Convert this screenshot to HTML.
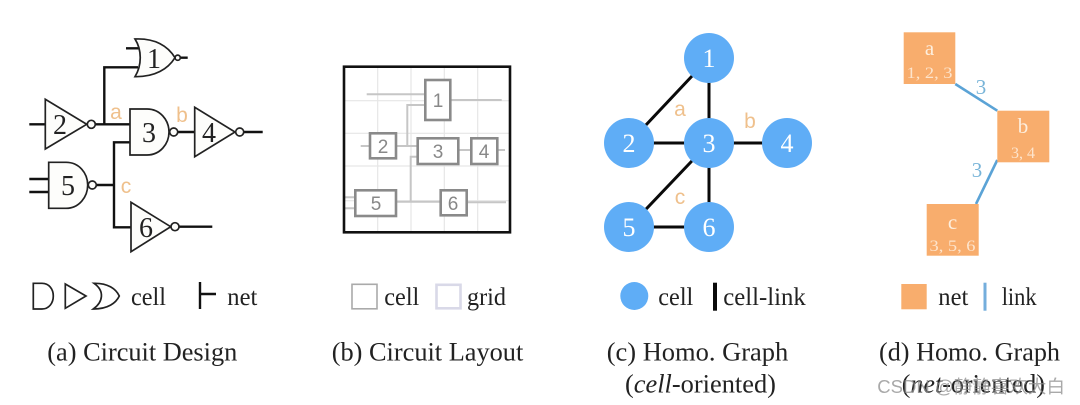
<!DOCTYPE html>
<html><head><meta charset="utf-8"><style>
html,body{margin:0;padding:0;background:#fff;width:1080px;height:405px;overflow:hidden}
svg{display:block;filter:blur(.35px)}
.s{font-family:"Liberation Serif","Noto Serif CJK SC",serif;fill:#222}
.h{font-family:"Liberation Sans",sans-serif}
.g{fill:#fdfdfb;stroke:#222;stroke-width:1.7}
.w{fill:none;stroke:#111;stroke-width:2.4}
.d{font-size:28px;text-anchor:middle}
.lab{font-size:21px;fill:#efc08c;text-anchor:middle}
.lay{fill:none;stroke:#c6c6c6;stroke-width:2}
.box{fill:#fff;stroke:#8a8a8a;stroke-width:2.6}
.bt{font-size:19px;fill:#888;text-anchor:middle}
.gr{stroke:#e6e6e6;stroke-width:1.2}
.cn{font-size:26px;fill:#fff;text-anchor:middle}
.n{fill:#f8ad6d}
.nt{font-size:21px;fill:#fdeedd;text-anchor:middle}
.nb{font-size:16px;fill:#fde4cc;text-anchor:middle}
.leg{font-size:25px}
.cap{font-size:26.5px}
</style></head><body>
<svg width="1080" height="405" viewBox="0 0 1080 405" xmlns="http://www.w3.org/2000/svg">
<!-- panel a wires -->
<path class="w" d="M126 48.3H139M138 67.3H104.3V124.3M29.3 124.3H45M95 124.3H130M130 142.3H114V227.3H131M96 185H114M29.3 179H49M29.3 192H49M177 132H195M243.5 132H262.7M179 226.7H212.3M180.5 57.7H187.7"/>
<!-- gates -->
<path class="g" d="M135 39C155 38 168 46 175 57.7C168 69 155 77 135 76.7C142 65 142 50 135 39Z"/>
<circle class="g" cx="177.7" cy="57.7" r="2.6"/>
<path class="g" d="M45.3 99.3V149L86.7 124.3Z"/><circle class="g" cx="91.3" cy="124.3" r="4"/>
<path class="g" d="M130 109H147C160 109 169 120 169 132C169 144 160 155 147 155H130Z"/><circle class="g" cx="173.7" cy="132" r="4"/>
<path class="g" d="M194.7 107.3V156.7L235 132Z"/><circle class="g" cx="239.7" cy="132" r="4"/>
<path class="g" d="M48.7 162.3H66C79 162.3 87.7 173 87.7 185C87.7 197 79 208.3 66 208.3H48.7Z"/><circle class="g" cx="92.3" cy="185" r="4"/>
<path class="g" d="M131 202.3V251.7L170.7 226.7Z"/><circle class="g" cx="175" cy="226.7" r="4"/>
<text class="s d" x="154" y="68">1</text>
<text class="s d" x="60" y="134">2</text>
<text class="s d" x="149" y="142">3</text>
<text class="s d" x="209" y="142">4</text>
<text class="s d" x="68" y="195">5</text>
<text class="s d" x="146" y="237">6</text>
<text class="h lab" x="116" y="119">a</text>
<text class="h lab" x="182" y="122">b</text>
<text class="h lab" x="126" y="193">c</text>
<!-- panel b -->
<path class="gr" d="M377.7 67V232M411 67V232M444.3 67V232M477.7 67V232M344 100.7H510M344 133.3H510M344 166H510M344 200.7H510"/>
<path class="lay" d="M366.7 94.3H425.3M450.3 100H501.7M425.3 105H407.3V146H417.7M396 146H417.7M360.7 146H370M458.3 150H471.3M497.3 150H505M417.7 156.7H410.7V201.7M396 201.7H440.7M466.7 202.3H506M345 197.3H355.3M345 208.3H355.3"/>
<rect x="344" y="66.7" width="166" height="165.6" fill="none" stroke="#111" stroke-width="2.6"/>
<rect class="box" x="425.3" y="80" width="25" height="40"/>
<rect class="box" x="370" y="133.3" width="26" height="25"/>
<rect class="box" x="417.7" y="138.3" width="40.6" height="25.7"/>
<rect class="box" x="471.3" y="138.3" width="26" height="25.7"/>
<rect class="box" x="355.3" y="190.3" width="40.7" height="25.7"/>
<rect class="box" x="440.7" y="190.3" width="26" height="25"/>
<text class="h bt" x="438" y="107">1</text>
<text class="h bt" x="383" y="153">2</text>
<text class="h bt" x="438" y="158">3</text>
<text class="h bt" x="484" y="158">4</text>
<text class="h bt" x="376" y="210">5</text>
<text class="h bt" x="453" y="210">6</text>
<!-- panel c -->
<path d="M709 58V227M629 143L709 58M629 143H787M629 227H709M629 227L709 143" fill="none" stroke="#0a0a0a" stroke-width="3"/>
<g fill="#5fadf6"><circle cx="709" cy="58" r="25"/><circle cx="629" cy="143" r="25"/><circle cx="709" cy="143" r="25"/><circle cx="787" cy="143" r="25"/><circle cx="629" cy="227" r="25"/><circle cx="709" cy="227" r="25"/></g>
<text class="s cn" x="709" y="67">1</text>
<text class="s cn" x="629" y="152">2</text>
<text class="s cn" x="709" y="152">3</text>
<text class="s cn" x="787" y="152">4</text>
<text class="s cn" x="629" y="236">5</text>
<text class="s cn" x="709" y="236">6</text>
<text class="h lab" x="680" y="116">a</text>
<text class="h lab" x="750" y="128">b</text>
<text class="h lab" x="680" y="204">c</text>
<!-- panel d -->
<path d="M955.3 84L997.3 110.7M997.3 160L976 204" stroke="#5ba3d6" stroke-width="2.6" fill="none"/>
<rect class="n" x="903.7" y="32.3" width="51.6" height="51.7"/>
<rect class="n" x="997.3" y="110.7" width="52" height="51.6"/>
<rect class="n" x="926.7" y="204" width="52" height="51.7"/>
<text class="s nt" x="929.5" y="55">a</text>
<text class="s nb" x="929.5" y="78" textLength="46" lengthAdjust="spacingAndGlyphs">1, 2, 3</text>
<text class="s nt" x="1023" y="133">b</text>
<text class="s nb" x="1023" y="158">3, 4</text>
<text class="s nt" x="952.5" y="229">c</text>
<text class="s nb" x="952.5" y="251" textLength="46" lengthAdjust="spacingAndGlyphs">3, 5, 6</text>
<text class="s" x="981" y="94" font-size="21" text-anchor="middle" style="fill:#78b4d8">3</text>
<text class="s" x="977" y="177" font-size="21" text-anchor="middle" style="fill:#78b4d8">3</text>
<!-- legends -->
<g fill="none" stroke="#222" stroke-width="1.7">
<path d="M33.3 283.3H42C49 283.3 53.3 289 53.3 296C53.3 303 49 309 42 309H33.3Z"/>
<path d="M65.3 284V308.3L86 296Z"/>
<path d="M94 283.3C108 283 116 289 119.3 296C116 303 108 309 93.3 309C103 302 105 291 94 283.3Z"/>
</g>
<path d="M200 282V309M200 294H216" fill="none" stroke="#111" stroke-width="2.4"/>
<text class="s leg" x="131" y="305" textLength="35" lengthAdjust="spacingAndGlyphs">cell</text>
<text class="s leg" x="227.3" y="305" textLength="30" lengthAdjust="spacingAndGlyphs">net</text>
<rect x="352" y="284.3" width="25" height="24.5" fill="#fff" stroke="#aaa" stroke-width="1.6"/>
<text class="s leg" x="384.3" y="305" textLength="35" lengthAdjust="spacingAndGlyphs">cell</text>
<rect x="436.5" y="284.8" width="24" height="23.5" fill="#fff" stroke="#d9d9e8" stroke-width="2.6"/>
<text class="s leg" x="467" y="305" textLength="39" lengthAdjust="spacingAndGlyphs">grid</text>
<circle cx="634.3" cy="296" r="14" fill="#5fadf6"/>
<text class="s leg" x="658.3" y="305" textLength="35" lengthAdjust="spacingAndGlyphs">cell</text>
<rect x="713" y="282.7" width="4" height="28" fill="#0a0a0a"/>
<text class="s leg" x="723.3" y="305" textLength="82.5" lengthAdjust="spacingAndGlyphs">cell-link</text>
<rect class="n" x="901.3" y="284" width="25.4" height="25.3"/>
<text class="s leg" x="938.3" y="305" textLength="30" lengthAdjust="spacingAndGlyphs">net</text>
<rect x="983.5" y="282.7" width="3" height="28" fill="#74aedc"/>
<text class="s leg" x="1001.7" y="305" textLength="35" lengthAdjust="spacingAndGlyphs">link</text>
<!-- captions -->
<text class="s cap" x="47.3" y="360.7" textLength="190" lengthAdjust="spacingAndGlyphs">(a) Circuit Design</text>
<text class="s cap" x="331.7" y="360.7" textLength="191.6" lengthAdjust="spacingAndGlyphs">(b) Circuit Layout</text>
<text class="s cap" x="606.7" y="360.7" textLength="181.6" lengthAdjust="spacingAndGlyphs">(c) Homo. Graph</text>
<text class="s cap" x="625" y="392.7" textLength="151" lengthAdjust="spacingAndGlyphs">(<tspan font-style="italic">cell</tspan>-oriented)</text>
<text class="s cap" x="879" y="360.7" textLength="181" lengthAdjust="spacingAndGlyphs">(d) Homo. Graph</text>
<text class="s cap" x="901.7" y="392.7" textLength="143.3" lengthAdjust="spacingAndGlyphs">(<tspan font-style="italic">net</tspan>-oriented)</text>
<text x="877.3" y="393" font-size="18" textLength="187.7" lengthAdjust="spacingAndGlyphs" style="font-family:'Liberation Sans','Noto Sans CJK SC',sans-serif;fill:#8c8c8c;fill-opacity:.75">CSDN @静静喜欢大白</text>
</svg>
</body></html>
